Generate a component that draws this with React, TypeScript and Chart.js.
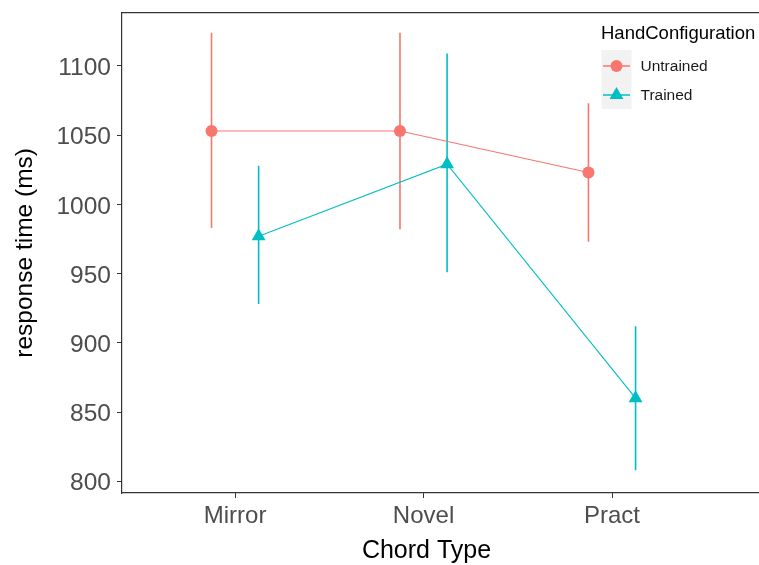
import React, { useEffect, useRef } from "react";
import { Chart, registerables } from "chart.js";
Chart.register(...registerables);

const categories = ["Mirror", "Novel", "Pract"];
const seriesNames = ["Untrained", "Trained"];
const untrainedMean = [1053, 1053, 1023];
const untrainedLow = [983, 982, 973];
const untrainedHigh = [1124, 1124, 1073];
const trainedMean = [977, 1029, 860];
const trainedLow = [928, 951, 808];
const trainedHigh = [1028, 1109, 912];
const yTicks = [800, 850, 900, 950, 1000, 1050, 1100];
const xTitle = "Chord Type";
const yTitle = "response time (ms)";
const legendTitle = "HandConfiguration";

const RED = "#F8766D";
const CYAN = "#00BFC4";
const FONT = "'Liberation Sans', Arial, sans-serif";
const DODGE = 0.125;

function meanPoints(means: number[], off: number) {
  return means.map((m, i) => ({ x: i + 1 + off, y: m }));
}
function errPoints(lows: number[], highs: number[], off: number) {
  const out: { x: number; y: number | null }[] = [];
  lows.forEach((lo, i) => {
    out.push({ x: i + 1 + off, y: lo });
    out.push({ x: i + 1 + off, y: highs[i] });
    out.push({ x: i + 1 + off, y: null });
  });
  return out;
}

const legendPlugin = {
  id: "ggLegend",
  afterDraw(chart: any) {
    const ctx = chart.ctx as CanvasRenderingContext2D;
    ctx.save();
    // x axis title
    ctx.fillStyle = "#000";
    ctx.font = `25px ${FONT}`;
    ctx.textBaseline = "middle";
    ctx.textAlign = "center";
    ctx.fillText(xTitle, 426.5, 551);
    // legend
    ctx.textAlign = "left";
    ctx.font = `18.5px ${FONT}`;
    ctx.fillText(legendTitle, 601, 34);
    ctx.fillStyle = "#F2F2F2";
    ctx.fillRect(601.5, 50, 30, 59);
    const rows = [
      { name: seriesNames[0], color: RED, shape: "circle", y: 66 },
      { name: seriesNames[1], color: CYAN, shape: "triangle", y: 95 },
    ];
    rows.forEach((r) => {
      ctx.strokeStyle = r.color;
      ctx.lineWidth = 1.5;
      ctx.beginPath();
      ctx.moveTo(603, r.y);
      ctx.lineTo(630, r.y);
      ctx.stroke();
      ctx.fillStyle = r.color;
      ctx.beginPath();
      if (r.shape === "circle") {
        ctx.arc(616.5, r.y, 6, 0, Math.PI * 2);
      } else {
        const rad = 8;
        ctx.moveTo(616.5, r.y - rad);
        ctx.lineTo(616.5 + rad * Math.sin((2 * Math.PI) / 3), r.y + rad / 2);
        ctx.lineTo(616.5 - rad * Math.sin((2 * Math.PI) / 3), r.y + rad / 2);
        ctx.closePath();
      }
      ctx.fill();
      ctx.fillStyle = "#1a1a1a";
      ctx.font = `15.5px ${FONT}`;
      ctx.fillText(r.name, 640.5, r.y + 0.5);
    });
    ctx.restore();
  },
};

export default function App() {
  const ref = useRef<HTMLCanvasElement | null>(null);
  useEffect(() => {
    document.body.style.margin = "0";
    const canvas = ref.current!;
    const chart = new Chart(canvas, {
      type: "scatter",
      data: {
        datasets: [
          {
            label: "Untrained err",
            data: errPoints(untrainedLow, untrainedHigh, -DODGE),
            showLine: true,
            spanGaps: false,
            borderColor: RED,
            borderWidth: 1.6,
            pointRadius: 0,
            order: 4,
          } as any,
          {
            label: "Trained err",
            data: errPoints(trainedLow, trainedHigh, DODGE),
            showLine: true,
            spanGaps: false,
            borderColor: CYAN,
            borderWidth: 1.6,
            pointRadius: 0,
            order: 3,
          } as any,
          {
            label: seriesNames[0],
            data: meanPoints(untrainedMean, -DODGE),
            showLine: true,
            borderColor: RED,
            borderWidth: 1.1,
            pointStyle: "circle",
            pointRadius: 6,
            pointBorderWidth: 0,
            pointBackgroundColor: RED,
            order: 2,
          } as any,
          {
            label: seriesNames[1],
            data: meanPoints(trainedMean, DODGE),
            showLine: true,
            borderColor: CYAN,
            borderWidth: 1.1,
            pointStyle: "triangle",
            pointRadius: 8,
            pointBorderWidth: 0,
            pointBackgroundColor: CYAN,
            order: 1,
          } as any,
        ],
      },
      options: {
        animation: false,
        responsive: false,
        layout: { autoPadding: false, padding: { top: 12.7, right: 0, left: 0, bottom: 0 } },
        plugins: { legend: { display: false }, tooltip: { enabled: false } },
        scales: {
          x: {
            type: "linear",
            min: 0.4,
            max: 3.78,
            afterBuildTicks: (axis: any) => {
              axis.ticks = categories.map((_, i) => ({ value: i + 1 }));
            },
            afterFit: (axis: any) => {
              axis.height = 72;
              axis.paddingLeft = 0;
              axis.paddingRight = 0;
            },
            ticks: {
              callback: (v: any) => categories[Math.round(v) - 1] ?? "",
              color: "#4D4D4D",
              font: { family: FONT, size: 24 },
              padding: 4,
              maxRotation: 0,
              autoSkip: false,
            },
            grid: { drawOnChartArea: false, drawTicks: true, tickLength: 5, color: "#333333" },
            border: { display: true, color: "#333333", width: 1.2 },
            title: { display: false },
          },
          x2: {
            type: "linear",
            position: "top",
            min: 0.4,
            max: 3.78,
            afterFit: (axis: any) => {
              axis.height = 0;
              axis.paddingLeft = 0;
              axis.paddingRight = 0;
            },
            ticks: { display: false },
            grid: { display: false },
            border: { display: true, color: "#333333", width: 1.2 },
          },
          y: {
            type: "linear",
            min: 791.5,
            max: 1138.5,
            afterBuildTicks: (axis: any) => {
              axis.ticks = yTicks.map((v) => ({ value: v }));
            },
            afterFit: (axis: any) => {
              axis.width = 122;
              axis.paddingTop = 0;
              axis.paddingBottom = 0;
            },
            ticks: {
              callback: (v: any) => String(v),
              color: "#4D4D4D",
              font: { family: FONT, size: 24.5 },
              padding: 6,
              labelOffset: 2.5,
              autoSkip: false,
            },
            grid: { drawOnChartArea: false, drawTicks: true, tickLength: 5, color: "#333333" },
            border: { display: true, color: "#333333", width: 1.2 },
            title: {
              display: true,
              text: yTitle,
              color: "#000",
              font: { family: FONT, size: 24.5 },
              padding: { top: 10.5, bottom: 0 },
            },
          },
        },
      },
      plugins: [legendPlugin],
    });
    return () => chart.destroy();
  }, []);
  return <canvas ref={ref} width={759} height={565} style={{ display: "block", width: 759, height: 565 }} />;
}
